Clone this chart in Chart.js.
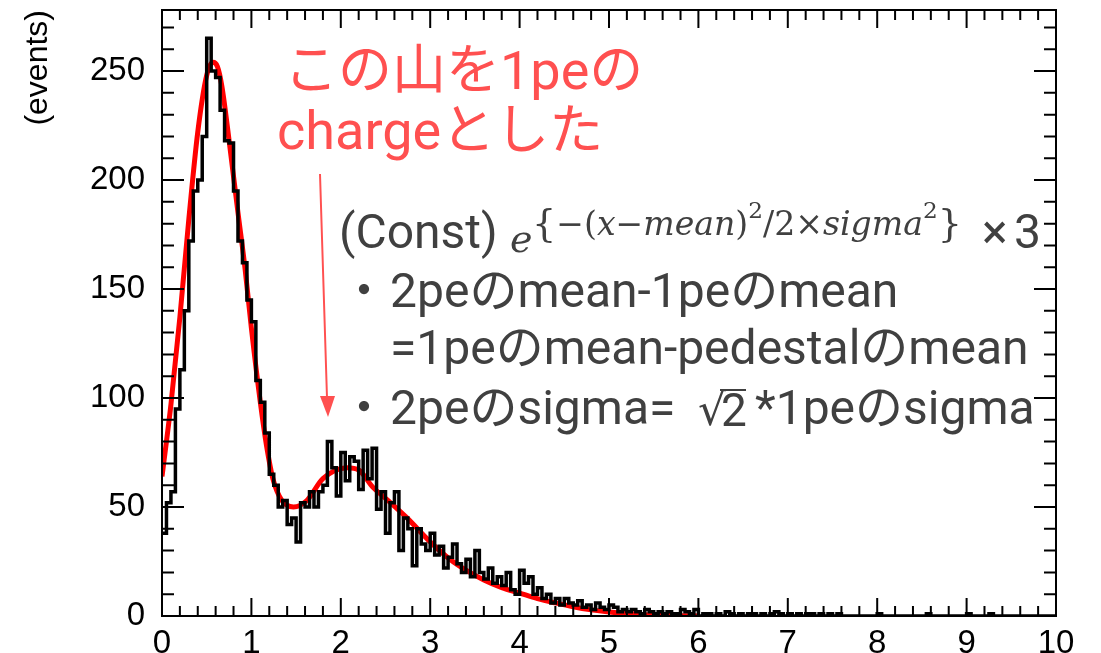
<!DOCTYPE html>
<html>
<head>
<meta charset="utf-8">
<script src="https://cdn.jsdelivr.net/npm/chart.js@4.4.1/dist/chart.umd.min.js"></script>
<style>
    html, body { margin: 0; padding: 0; background: #fff; }
    #wrap { width: 1101px; height: 653px; position: relative; }
</style>
</head>
<body>
<div id="wrap"><canvas id="chargeChart"></canvas></div>
<script>

// histogram: 200 bins of 0.05 from 0 to 10
const binWidth = 0.05;
const counts = [
    38, 52, 57, 95, 113, 140, 172, 195, 200, 220, 265, 250, 247, 232, 218, 217, 195, 172, 162, 145,
    135, 108, 98, 84, 65, 60, 50, 53, 42, 45, 34, 52, 50, 57, 50, 57, 60, 80, 68, 55,
    75, 62, 73, 71, 58, 76, 63, 77, 49, 57, 38, 52, 57, 30, 45, 40, 23, 40, 33, 30,
    38, 28, 32, 22, 27, 33, 24, 20, 26, 18, 30, 20, 17, 22, 15, 18, 14, 20, 12, 10,
    21, 15, 18, 10, 13, 8, 10, 6, 8, 5, 8, 6, 5, 7, 4, 5, 3, 6, 4, 3,
    5, 4, 2, 3, 2, 3, 2, 1, 3, 2, 1, 2, 1, 2, 1, 1, 3, 2, 1, 3,
    0, 1, 1, 0, 1, 0, 2, 1, 0, 1, 0, 1, 1, 0, 1, 0, 1, 2, 1, 0,
    1, 0, 1, 0, 1, 1, 0, 1, 0, 1, 0, 1, 0, 0, 0, 0, 0, 0, 0, 0,
    1, 0, 0, 0, 0, 0, 0, 0, 0, 0, 0, 1, 0, 0, 0, 0, 0, 0, 0, 0,
    1, 0, 0, 0, 0, 1, 0, 0, 0, 0, 0, 0, 0, 0, 0, 0, 0, 0, 0, 0
];

// fitted curve
const fitX = [0, 0.1, 0.2, 0.3, 0.4, 0.5, 0.57, 0.62, 0.67, 0.76, 0.85, 0.93, 1.0, 1.1, 1.17, 1.24, 1.34, 1.47,
    1.62, 1.8, 2.07, 2.2, 2.36, 2.5, 2.74, 3.0, 3.22, 3.4, 3.6, 3.8, 4.0, 4.2, 4.4, 4.6, 4.8, 5.0, 5.2, 5.4, 5.6, 5.8, 6.0];
const fitY = [64, 97, 137, 182, 222, 248, 254, 252, 243, 215, 185, 159, 132, 98, 78, 63, 53, 50,
    53, 63, 68, 67, 59, 54, 45, 34, 26, 21, 16.5, 13, 10.5, 8, 6, 4.2, 2.8, 1.8, 1.1, 0.6, 0.3, 0.15, 0.05];

const xTicks = [0, 1, 2, 3, 4, 5, 6, 7, 8, 9, 10];
const yTicks = [0, 50, 100, 150, 200, 250];
const yTitle = "(events)";

const noteRed = ["この山を1peの", "chargeとした"];

const histPoints = counts.map((c, i) => ({ x: i * binWidth, y: c }));
histPoints.push({ x: counts.length * binWidth, y: counts[counts.length - 1] });
const fitPoints = fitX.map((x, i) => ({ x: x, y: fitY[i] }));

const FONT_TXT = '"Roboto", "Noto Sans CJK JP", sans-serif';
const FONT_MATH = '"DejaVu Serif", "Liberation Serif", serif';
const RED = "rgb(255, 80, 80)";
const GREY = "#404040";

const frameTicks = {
    id: "frameTicks",
    afterDatasetsDraw(chart) {
        const ctx = chart.ctx;
        const a = chart.chartArea;
        const sx = chart.scales.x, sy = chart.scales.y;
        ctx.save();
        ctx.strokeStyle = "#000";
        ctx.lineWidth = 2;
        ctx.strokeRect(a.left, a.top, a.right - a.left, a.bottom - a.top);
        ctx.beginPath();
        for (let i = 0; i <= 50; i++) {
            const px = sx.getPixelForValue(i / 5);
            const len = i % 5 === 0 ? 18 : 10;
            ctx.moveTo(px, a.bottom); ctx.lineTo(px, a.bottom - len);
            ctx.moveTo(px, a.top); ctx.lineTo(px, a.top + len);
        }
        for (let i = 0; i <= 27; i++) {
            const py = sy.getPixelForValue(i * 10);
            const len = i % 5 === 0 ? 22 : 12;
            ctx.moveTo(a.left, py); ctx.lineTo(a.left + len, py);
            ctx.moveTo(a.right, py); ctx.lineTo(a.right - len, py);
        }
        ctx.stroke();
        ctx.restore();
    }
};

// draws pieces of text one after another, scaled so the whole run fits a width
function runs(ctx, x, width, size, parts) {
    const measure = s => parts.reduce((w, p) => {
        ctx.font = p.f(s);
        return w + ctx.measureText(p.t).width;
    }, 0);
    const k = size * width / measure(size);
    parts.forEach(p => {
        ctx.font = p.f(k);
        ctx.fillText(p.t, x, p.y);
        x += ctx.measureText(p.t).width;
    });
}

const notes = {
    id: "notes",
    afterDraw(chart) {
        const ctx = chart.ctx;
        ctx.save();
        ctx.textBaseline = "middle";
        ctx.textAlign = "left";

        // red note and arrow
        ctx.fillStyle = RED;
        ctx.font = "54px " + FONT_TXT;
        ctx.fillText(noteRed[0], 284, 75);
        ctx.fillText(noteRed[1], 277, 135);

        ctx.strokeStyle = RED;
        ctx.lineWidth = 2;
        ctx.beginPath();
        ctx.moveTo(320, 174);
        ctx.lineTo(327, 398);
        ctx.stroke();
        ctx.beginPath();
        ctx.moveTo(320, 396);
        ctx.lineTo(335, 396);
        ctx.lineTo(328, 417);
        ctx.closePath();
        ctx.fill();

        // formula and remarks
        ctx.fillStyle = GREY;
        ctx.font = "48px " + FONT_TXT;
        ctx.fillText("(Const)", 339, 236);
        ctx.font = "italic 38px " + FONT_MATH;
        ctx.fillText("e", 510, 242);

        const sup = 226, sup2 = 212;
        runs(ctx, 532, 430, 30, [
            { t: "{", f: s => (s * 1.15) + "px " + FONT_MATH, y: sup },
            { t: "−(", f: s => s + "px " + FONT_MATH, y: sup },
            { t: "x", f: s => "italic " + s + "px " + FONT_MATH, y: sup },
            { t: "−", f: s => s + "px " + FONT_MATH, y: sup },
            { t: "mean", f: s => "italic " + s + "px " + FONT_MATH, y: sup },
            { t: ")", f: s => s + "px " + FONT_MATH, y: sup },
            { t: "2", f: s => (s * 0.7) + "px " + FONT_MATH, y: sup2 },
            { t: "/2×", f: s => s + "px " + FONT_MATH, y: sup },
            { t: "sigma", f: s => "italic " + s + "px " + FONT_MATH, y: sup },
            { t: "2", f: s => (s * 0.7) + "px " + FONT_MATH, y: sup2 },
            { t: "}", f: s => (s * 1.15) + "px " + FONT_MATH, y: sup }
        ]);

        ctx.font = "48px " + FONT_TXT;
        ctx.fillText("×", 982, 236);
        ctx.fillText("3", 1014, 236);

        ctx.fillText("・", 340, 295);
        ctx.fillText("2peのmean-1peのmean", 390, 295);
        ctx.fillText("=1peのmean-pedestalのmean", 390, 352);
        ctx.fillText("・", 340, 412);
        ctx.fillText("2peのsigma=", 390, 412);

        // sqrt(2)
        ctx.font = "44px " + FONT_MATH;
        ctx.fillText("√", 698, 414);
        ctx.font = "46px " + FONT_TXT;
        ctx.fillText("2", 721, 414);
        ctx.lineWidth = 2;
        ctx.strokeStyle = GREY;
        ctx.beginPath();
        ctx.moveTo(720, 390);
        ctx.lineTo(746, 390);
        ctx.stroke();

        ctx.font = "48px " + FONT_TXT;
        ctx.fillText("*1peのsigma", 755, 412);
        ctx.restore();
    }
};

new Chart(document.getElementById("chargeChart"), {
    type: "line",
    data: {
        datasets: [{
            label: "histogram",
            data: histPoints,
            stepped: true,
            borderColor: "#000",
            borderWidth: 3.5,
            pointRadius: 0,
            fill: false
        }, {
            label: "fit",
            data: fitPoints,
            borderColor: "#ff0000",
            borderWidth: 5,
            cubicInterpolationMode: "monotone",
            pointRadius: 0,
            fill: false
        }]
    },
    options: {
        responsive: true,
        maintainAspectRatio: false,
        animation: false,
        events: [],
        layout: { padding: { top: 10, right: 45, left: 0, bottom: 0 } },
        plugins: {
            legend: { display: false },
            tooltip: { enabled: false }
        },
        scales: {
            x: {
                type: "linear",
                min: 0,
                max: 10,
                afterBuildTicks: s => { s.ticks = xTicks.map(v => ({ value: v })); },
                afterFit: s => { s.height = 37; s.paddingLeft = 0; s.paddingRight = 0; },
                grid: { display: false },
                border: { display: false },
                ticks: {
                    color: "#000",
                    padding: 0,
                    maxRotation: 0,
                    autoSkip: false,
                    font: { family: '"Liberation Sans", Arial, sans-serif', size: 33 }
                }
            },
            y: {
                min: 0,
                max: 278,
                afterBuildTicks: s => { s.ticks = yTicks.map(v => ({ value: v })); },
                afterFit: s => { s.width = 162; s.paddingTop = 0; s.paddingBottom = 0; },
                grid: { display: false },
                border: { display: false },
                ticks: {
                    color: "#000",
                    padding: 9,
                    font: { family: '"Liberation Sans", Arial, sans-serif', size: 33 }
                },
                title: {
                    display: true,
                    text: yTitle,
                    align: "end",
                    color: "#000",
                    padding: { top: 19, bottom: 0 },
                    font: { family: '"Liberation Sans", Arial, sans-serif', size: 32 }
                }
            }
        }
    },
    plugins: [frameTicks, notes]
});

</script>
</body>
</html>
